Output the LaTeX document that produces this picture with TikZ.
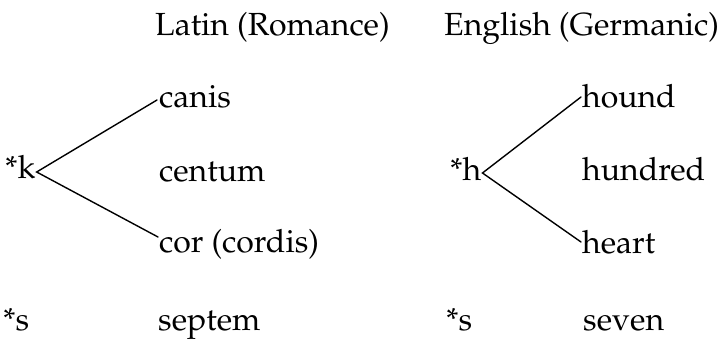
\documentclass[tikz,border=0pt]{standalone}
\usepackage[T1]{fontenc}
\usepackage{mathpazo}
\usetikzlibrary{calc}
\tikzset{
  word/.style={anchor=base west, inner sep=0pt, font=\fontsize{32}{38}\selectfont},
  branch/.style={line width=1.4pt, line cap=round}
}
\begin{document}
\begin{tikzpicture}[x=1pt,y=1pt]
\useasboundingbox (0,0) rectangle (728,343);
% headings (y = 343 - pixel baseline)
\node[word] (latin) at (155,307) {Latin (Romance)};
\node[word] (english) at (444,307) {English (Germanic)};
% left column
\node[word] (k) at (5,164) {*k};
\node[word] (canis) at (159,235) {canis};
\node[word] (centum) at (159,161) {centum};
\node[word] (cor) at (159,91) {cor (cordis)};
\node[word] (s1) at (3,13) {*s};
\node[word] (septem) at (158,13) {septem};
% right column
\node[word] (h) at (450,162) {*h};
\node[word] (hound) at (582,235) {hound};
\node[word] (hundred) at (582,162) {hundred};
\node[word] (heart) at (582,90) {heart};
\node[word] (s2) at (446,13) {*s};
\node[word] (seven) at (583,13) {seven};
% branches
\draw[branch] ($(canis.base west)+(-2,8)$) -- ($(k.base east)+(1,7)$) -- ($(cor.base west)+(-1,15)$);
\draw[branch] ($(hound.base west)+(-1,11)$) -- ($(h.base east)+(1,8)$) -- ($(heart.base west)+(-1,11)$);
\end{tikzpicture}
\end{document}
